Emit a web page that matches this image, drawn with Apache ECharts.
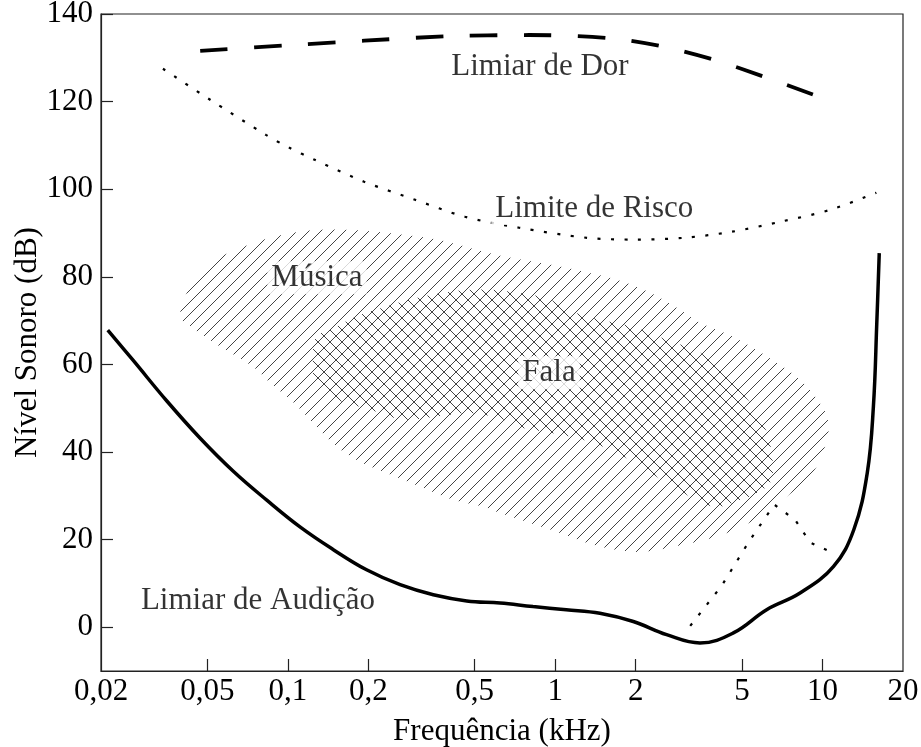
<!DOCTYPE html>
<html>
<head>
<meta charset="utf-8">
<title>Audição</title>
<script src="https://cdn.jsdelivr.net/npm/echarts@6.0.0/dist/echarts.min.js"></script>
<style>
  html, body { margin: 0; padding: 0; background: #fff; }
  #chart { width: 921px; height: 747px; }
</style>
</head>
<body>
<div id="chart"></div>
<script>
// frequências em kHz, níveis em dB
var hearingF = [0.0212, 0.0264, 0.0352, 0.0469, 0.0625, 0.0834, 0.111, 0.148, 0.197, 0.263, 0.35, 0.467, 0.622, 0.826, 1.1, 1.47, 1.96, 2.61, 3.48, 4.64, 6.18, 8.24, 11.0, 13.1, 14.7, 15.5, 15.96, 16.3];
var hearingDb = [67.8, 60.9, 51.7, 43.2, 35.6, 29.0, 22.9, 17.7, 13.1, 9.7, 7.4, 6.0, 5.5, 4.7, 4.0, 3.2, 1.3, -1.7, -3.6, -1.3, 4.0, 7.8, 13.9, 22.3, 35.2, 50.4, 69.5, 85.4];

var painF = [0.047, 0.096, 0.193, 0.391, 0.798, 1.59, 2.51, 4.0, 6.15, 9.7];
var painDb = [131.6, 132.8, 133.9, 134.9, 135.2, 134.5, 132.6, 129.4, 125.5, 121.1];

var riskF = [0.0341, 0.0507, 0.0828, 0.101, 0.126, 0.193, 0.299, 0.46, 0.733, 1.32, 1.99, 3.03, 4.59, 7.0, 10.7, 15.9];
var riskDb = [127.5, 120.6, 112.4, 109.5, 106.7, 101.7, 97.6, 93.7, 91.2, 88.9, 88.5, 88.9, 90.3, 92.6, 95.3, 99.2];

var riskLowF = [3.2, 4.2, 5.3, 6.6, 7.9, 9.0, 10.9];
var riskLowDb = [0.3, 9.5, 19.5, 28.0, 24.5, 19.3, 17.0];

var musicF = [0.0395, 0.0431, 0.0511, 0.0644, 0.0857, 0.114, 0.152, 0.203, 0.27, 0.361, 0.48, 0.638, 0.957, 1.27, 1.70, 2.26, 2.93, 3.48, 4.63, 6.2, 8.24, 10.0, 10.5,
              10.4, 9.2, 7.1, 5.35, 4.03, 3.0, 2.08, 1.47, 0.957, 0.622, 0.555, 0.415, 0.312, 0.234, 0.181, 0.152, 0.124, 0.105, 0.0857, 0.074, 0.0557, 0.0431];
var musicDb = [71.0, 77.8, 83.2, 86.2, 88.9, 90.4, 90.8, 90.4, 89.6, 88.5, 86.6, 84.7, 82.8, 81.2, 79.3, 76.4, 72.5, 69.5, 66.3, 61.8, 56.5, 50.3, 46.9,
               42.8, 35.3, 29.1, 23.9, 20.7, 18.8, 17.2, 18.4, 22.3, 26.1, 27.3, 29.1, 32.1, 35.2, 38.2, 41.3, 46.7, 51.3, 55.8, 59.5, 64.1, 68.7];

var speechF = [0.128, 0.144, 0.181, 0.234, 0.286, 0.415, 0.555, 0.739, 0.957, 1.11, 1.47, 1.95, 2.62, 3.48, 4.03, 4.63, 5.35, 6.2, 6.53,
               6.2, 4.63, 3.9, 3.0, 2.26, 1.70, 1.27, 0.957, 0.72, 0.638, 0.48, 0.361, 0.27, 0.203, 0.152, 0.128, 0.124];
var speechDb = [66.4, 67.9, 71.0, 73.2, 74.8, 76.7, 77.1, 76.3, 74.8, 72.5, 70.2, 68.6, 65.6, 62.7, 59.6, 55.8, 51.3, 44.4, 36.0,
                32.1, 28.4, 27.5, 30.7, 35.3, 39.8, 42.8, 44.4, 45.8, 47.4, 48.9, 48.1, 47.4, 49.7, 52.0, 55.0, 61.1];

var labelText = ['Limiar de Dor', 'Limite de Risco', 'Música', 'Fala', 'Limiar de Audição'];
var labelF = [0.877, 1.40, 0.1285, 0.948, 0.0773];
var labelDb = [127.9, 95.6, 79.8, 58.1, 6.0];

var xTicks = [0.05, 0.1, 0.2, 0.5, 1, 2, 5, 10];
var xLabels = [0.02, 0.05, 0.1, 0.2, 0.5, 1, 2, 5, 10, 20];
var yTicks = [0, 20, 40, 60, 80, 100, 120, 140];

var FONT = '"Liberation Serif", "DejaVu Serif", "Times New Roman", serif';
var FS = 31;

function pairs(xs, ys) {
  return xs.map(function (x, i) { return [x, ys[i]]; });
}

// hachura diagonal: dir 1 = "/", dir -1 = "\"
function hatch(dir) {
  var s = 12;
  var c = document.createElement('canvas');
  c.width = s; c.height = s;
  var g = c.getContext('2d');
  g.strokeStyle = '#444';
  g.lineWidth = 1;
  g.beginPath();
  if (dir > 0) {
    g.moveTo(-2, s + 2); g.lineTo(s + 2, -2);
    g.moveTo(-2, 2); g.lineTo(2, -2);
    g.moveTo(s - 2, s + 2); g.lineTo(s + 2, s - 2);
  } else {
    g.moveTo(-2, -2); g.lineTo(s + 2, s + 2);
    g.moveTo(s - 2, -2); g.lineTo(s + 2, 2);
    g.moveTo(-2, s - 2); g.lineTo(2, s + 2);
  }
  g.stroke();
  return c;
}

function region(fs, dbs, dir) {
  var pattern = { image: hatch(dir), repeat: 'repeat' };
  return {
    type: 'custom',
    silent: true,
    z: 1,
    data: [[fs[0], dbs[0]]],
    renderItem: function (params, api) {
      var pts = fs.map(function (f, i) { return api.coord([f, dbs[i]]); });
      return {
        type: 'polygon',
        shape: { points: pts, smooth: 0.35 },
        style: { fill: pattern, stroke: null }
      };
    }
  };
}

var chart = echarts.init(document.getElementById('chart'), null, { renderer: 'canvas' });

chart.setOption({
  animation: false,
  backgroundColor: '#fff',
  textStyle: { fontFamily: FONT },
  grid: {
    left: 101, right: 18, top: 14, bottom: 76,
    outerBoundsMode: 'none',
    containLabel: false,
    show: true, borderColor: '#222', borderWidth: 1.2, backgroundColor: 'transparent'
  },
  xAxis: {
    type: 'log',
    logBase: 10,
    min: 0.02,
    max: 20,
    name: 'Frequência (kHz)',
    nameLocation: 'middle',
    nameGap: 45,
    nameTextStyle: { fontFamily: FONT, fontSize: FS, color: '#000' },
    axisLine: { onZero: false, lineStyle: { color: '#222', width: 1.2 } },
    axisTick: { inside: true, length: 12, customValues: xTicks, lineStyle: { color: '#222', width: 1.2 } },
    axisLabel: {
      customValues: xLabels,
      showMinLabel: true, showMaxLabel: true,
      margin: 5,
      fontFamily: FONT, fontSize: FS, color: '#000',
      formatter: function (v) { return String(+v.toPrecision(6)).replace('.', ','); }
    },
    splitLine: { show: false },
    minorTick: { show: false }
  },
  yAxis: {
    type: 'value',
    min: -10,
    max: 140,
    name: 'Nível Sonoro (dB)',
    nameLocation: 'middle',
    nameGap: 58,
    nameMoveOverlap: false,
    nameTextStyle: { fontFamily: FONT, fontSize: FS, color: '#000' },
    axisLine: { show: true, onZero: false, lineStyle: { color: '#222', width: 1.2 } },
    axisTick: { show: true, inside: true, length: 12, customValues: yTicks, lineStyle: { color: '#222', width: 1.2 } },
    axisLabel: {
      customValues: yTicks,
      margin: 8,
      fontFamily: FONT, fontSize: FS, color: '#000'
    },
    splitLine: { show: false }
  },
  series: [
    region(musicF, musicDb, 1),
    region(speechF, speechDb, -1),
    {
      name: 'Limiar de Audição',
      type: 'line',
      data: pairs(hearingF, hearingDb),
      smooth: 0.4,
      showSymbol: false,
      silent: true,
      z: 3,
      lineStyle: { color: '#000', width: 3.5 }
    },
    {
      name: 'Limiar de Dor',
      type: 'line',
      data: pairs(painF, painDb),
      smooth: 0.3,
      showSymbol: false,
      silent: true,
      z: 3,
      lineStyle: { color: '#000', width: 3.8, type: [27.5, 26.5], cap: 'butt' }
    },
    {
      name: 'Limite de Risco',
      type: 'line',
      data: pairs(riskF, riskDb),
      smooth: 0.3,
      showSymbol: false,
      silent: true,
      z: 3,
      lineStyle: { color: '#000', width: 2.2, type: [3, 10.5], cap: 'butt' }
    },
    {
      name: 'Limite de Risco (baixo)',
      type: 'line',
      data: pairs(riskLowF, riskLowDb),
      smooth: false,
      showSymbol: false,
      silent: true,
      z: 3,
      lineStyle: { color: '#000', width: 2.2, type: [3, 10.5], cap: 'butt' }
    },
    {
      name: 'rótulos',
      type: 'scatter',
      symbolSize: 0,
      silent: true,
      z: 10,
      data: labelText.map(function (t, i) { return { name: t, value: [labelF[i], labelDb[i]] }; }),
      label: {
        show: true,
        position: 'inside',
        formatter: '{b}',
        fontFamily: FONT,
        fontSize: FS,
        color: '#000',
        backgroundColor: '#fff',
        padding: [1, 4]
      }
    }
  ]
});
</script>
</body>
</html>
